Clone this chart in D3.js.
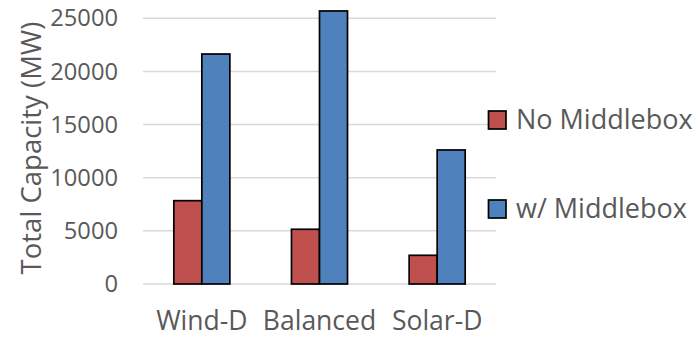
<!DOCTYPE html>
<html>
<head>
<meta charset="utf-8">
<script src="https://cdn.jsdelivr.net/npm/d3@7"></script>
<style>
  html, body { margin: 0; padding: 0; background: #fff; }
  svg { display: block; }
  text { font-family: "Open Sans", "Noto Sans", sans-serif; fill: #595959; }
</style>
</head>
<body>
<div id="chart"></div>
<script>
// Installed capacity per scenario, with and without the middlebox
const categories = ["Wind-D", "Balanced", "Solar-D"];
const seriesNames = ["No Middlebox", "w/ Middlebox"];
const noMiddlebox = [7840, 5150, 2700];
const withMiddlebox = [21640, 25690, 12610];
const yTicks = [0, 5000, 10000, 15000, 20000, 25000];
const seriesColors = ["#C0504D", "#4F81BD"];

const seriesValues = [noMiddlebox, withMiddlebox];

const W = 694, H = 338;
const plot = { left: 143, right: 496, top: 18.3, bottom: 284 };
const FONT = '"Open Sans", "Noto Sans", sans-serif';

const svg = d3.select("#chart").append("svg")
  .attr("width", W).attr("height", H);

const y = d3.scaleLinear().domain([0, 25000]).range([plot.bottom, plot.top]);
const x0 = d3.scaleBand().domain(categories).range([plot.left, plot.right]).paddingInner(0).paddingOuter(0);
const x1 = d3.scaleBand().domain(seriesNames).range([0, x0.bandwidth()]).paddingInner(0).paddingOuter(1.1);

// Horizontal gridlines
svg.append("g")
  .selectAll("line")
  .data(yTicks)
  .join("line")
  .attr("x1", plot.left).attr("x2", plot.right)
  .attr("y1", d => y(d)).attr("y2", d => y(d))
  .attr("stroke", "#d9d9d9").attr("stroke-width", 1.5);

// Y axis labels
const yAxis = d3.axisLeft(y).tickValues(yTicks).tickSize(0).tickPadding(0).tickFormat(d3.format("d"));
const yg = svg.append("g").attr("transform", `translate(${118},0)`).call(yAxis);
yg.select(".domain").remove();
yg.selectAll("text").attr("font-size", 23.7).attr("fill", "#595959")
  .style("font-family", FONT);

// X axis labels
const xAxis = d3.axisBottom(x0).tickSize(0).tickPadding(0);
const xg = svg.append("g").attr("transform", `translate(0,${311})`).call(xAxis);
xg.select(".domain").remove();
xg.selectAll("text").attr("font-size", 26.5).attr("fill", "#595959")
  .style("font-family", FONT);

// Bars
const groups = svg.append("g")
  .selectAll("g")
  .data(categories)
  .join("g")
  .attr("transform", d => `translate(${x0(d)},0)`);

groups.selectAll("rect")
  .data((d, i) => seriesNames.map((s, j) => ({ s, v: seriesValues[j][i], j })))
  .join("rect")
  .attr("x", d => x1(d.s))
  .attr("width", x1.bandwidth())
  .attr("y", d => y(d.v))
  .attr("height", d => y(0) - y(d.v))
  .attr("fill", d => seriesColors[d.j])
  .attr("stroke", "#000").attr("stroke-width", 1.7);

// Y axis title
svg.append("text")
  .attr("transform", `translate(41,148) rotate(-90)`)
  .attr("text-anchor", "middle")
  .attr("font-size", 27.5)
  .text("Total Capacity (MW)");

// Legend
const legend = svg.append("g");
const legendY = [120, 209];
seriesNames.forEach((name, i) => {
  legend.append("rect")
    .attr("x", 488.5).attr("y", legendY[i] - 9)
    .attr("width", 17.5).attr("height", 18)
    .attr("fill", seriesColors[i])
    .attr("stroke", "#000").attr("stroke-width", 1.7);
  legend.append("text")
    .attr("x", 516).attr("y", legendY[i])
    .attr("dy", "0.35em")
    .attr("font-size", 27)
    .text(name);
});
</script>
</body>
</html>
